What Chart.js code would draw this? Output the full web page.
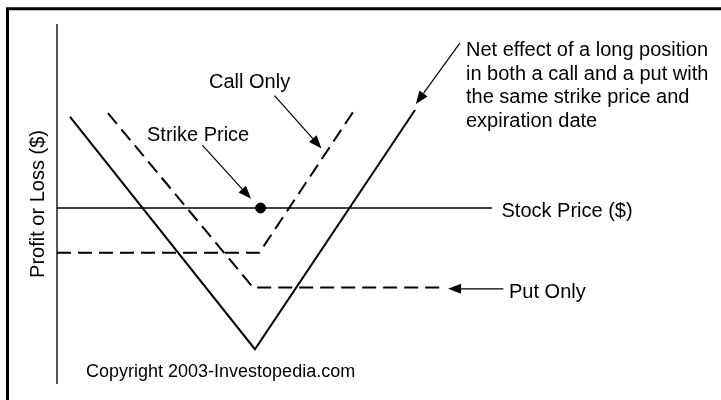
<!DOCTYPE html>
<html lang="en">
<head>
<meta charset="UTF-8">
<title>Long straddle</title>
<script src="https://cdn.jsdelivr.net/npm/chart.js"></script>
<style>
  html, body { margin: 0; padding: 0; background: #fff; }
</style>
</head>
<body>
<canvas id="grafico" width="721" height="400"></canvas>
<script>
// stock price (x) against profit or loss (y), arbitrary units
const netPrice = [3.0, 45.5, 82.3]
const netProfit = [22.8, -35.3, 24.5]
const callPrice = [0, 46.5, 68.5]
const callProfit = [-11.2, -11.2, 24.7]
const putPrice = [11.7, 45.1, 88.4]
const putProfit = [23.7, -19.9, -19.9]
const strikePrice = [46.8]
const strikeProfit = [0]

const pares = (xs, ys) => xs.map((x, i) => ({ x: x, y: ys[i] }))

const fonte = 'Arial, "Liberation Sans", sans-serif'

// arrows, given in chart units: [fromX, fromY, toX, toY]
const setas = [
  [33.4, 15.7, 44.6, 2.3],     // strike price
  [50.0, 28.1, 60.8, 14.9],    // call only
  [92.6, 41.2, 82.5, 26.0],    // net effect
  [102.6, -20.2, 89.9, -20.2]  // put only
]

const desenhaSeta = (ctx, x1, y1, x2, y2) => {
  const ang = Math.atan2(y2 - y1, x2 - x1)
  const len = 13, larg = 5
  const bx = x2 - len * Math.cos(ang), by = y2 - len * Math.sin(ang)
  ctx.beginPath()
  ctx.moveTo(x1, y1)
  ctx.lineTo(bx, by)
  ctx.stroke()
  ctx.beginPath()
  ctx.moveTo(x2, y2)
  ctx.lineTo(bx + larg * Math.sin(ang), by - larg * Math.cos(ang))
  ctx.lineTo(bx - larg * Math.sin(ang), by + larg * Math.cos(ang))
  ctx.closePath()
  ctx.fill()
}

const extras = {
  id: 'extras',
  beforeDatasetsDraw(chart) {
    const { ctx, chartArea, scales } = chart
    ctx.save()
    // frame (only top and left edges are visible)
    ctx.strokeStyle = '#000'
    ctx.lineWidth = 3
    ctx.beginPath()
    ctx.moveTo(7.5, 400)
    ctx.lineTo(7.5, 8.8)
    ctx.lineTo(721, 8.8)
    ctx.stroke()
    // profit axis
    ctx.strokeStyle = '#555'
    ctx.lineWidth = 2
    ctx.beginPath()
    ctx.moveTo(chartArea.left, chartArea.top)
    ctx.lineTo(chartArea.left, chartArea.bottom)
    ctx.stroke()
    // stock price axis at zero profit
    const y0 = scales.y.getPixelForValue(0)
    ctx.strokeStyle = '#000'
    ctx.lineWidth = 1.5
    ctx.beginPath()
    ctx.moveTo(chartArea.left, y0)
    ctx.lineTo(chartArea.right, y0)
    ctx.stroke()
    ctx.restore()
  },
  afterDraw(chart) {
    const { ctx, scales } = chart
    ctx.save()
    ctx.fillStyle = '#000'
    ctx.strokeStyle = '#000'
    ctx.lineWidth = 1.2
    setas.forEach(s => desenhaSeta(ctx,
      scales.x.getPixelForValue(s[0]), scales.y.getPixelForValue(s[1]),
      scales.x.getPixelForValue(s[2]), scales.y.getPixelForValue(s[3])))

    ctx.font = '20px ' + fonte
    ctx.textAlign = 'left'
    ctx.textBaseline = 'alphabetic'
    ctx.fillText('Call Only', 209, 88)
    ctx.fillText('Strike Price', 147, 140.5)
    ctx.fillText('Stock Price ($)', 501.5, 216.5)
    ctx.fillText('Put Only', 509, 298)
    const linhas = ['Net effect of a long position', 'in both a call and a put with',
      'the same strike price and', 'expiration date']
    linhas.forEach((t, i) => ctx.fillText(t, 466, 56 + i * 23.7))

    ctx.font = '18px ' + fonte
    ctx.fillText('Copyright 2003-Investopedia.com', 86, 377)

    ctx.font = '20px ' + fonte
    ctx.translate(43.5, 204)
    ctx.rotate(-Math.PI / 2)
    ctx.textAlign = 'center'
    ctx.fillText('Profit or Loss ($)', 0, 0)
    ctx.restore()
  }
}

const linha = (dados, tracejado, largura) => ({
  data: dados,
  showLine: true,
  borderColor: '#000',
  borderWidth: largura,
  borderDash: tracejado,
  pointRadius: 0,
  fill: false,
  tension: 0,
  clip: false
})

const ctx = document.getElementById('grafico')
const grafico = new Chart(ctx, {
  type: 'scatter',
  data: {
    datasets: [
      linha(pares(netPrice, netProfit), [], 2),
      linha(pares(callPrice, callProfit), [14, 7], 2),
      linha(pares(putPrice, putProfit), [14, 7], 2),
      {
        data: pares(strikePrice, strikeProfit),
        showLine: false,
        pointRadius: 5,
        pointBackgroundColor: '#000',
        pointBorderColor: '#000',
        clip: false
      }
    ]
  },
  options: {
    responsive: false,
    animation: false,
    devicePixelRatio: 1,
    layout: { padding: { left: 57, right: 229, top: 24, bottom: 16 } },
    plugins: { legend: { display: false }, tooltip: { enabled: false } },
    scales: {
      x: { type: 'linear', display: false, min: 0, max: 100 },
      y: { type: 'linear', display: false, min: -44, max: 46 }
    }
  },
  plugins: [extras]
})
</script>
</body>
</html>
